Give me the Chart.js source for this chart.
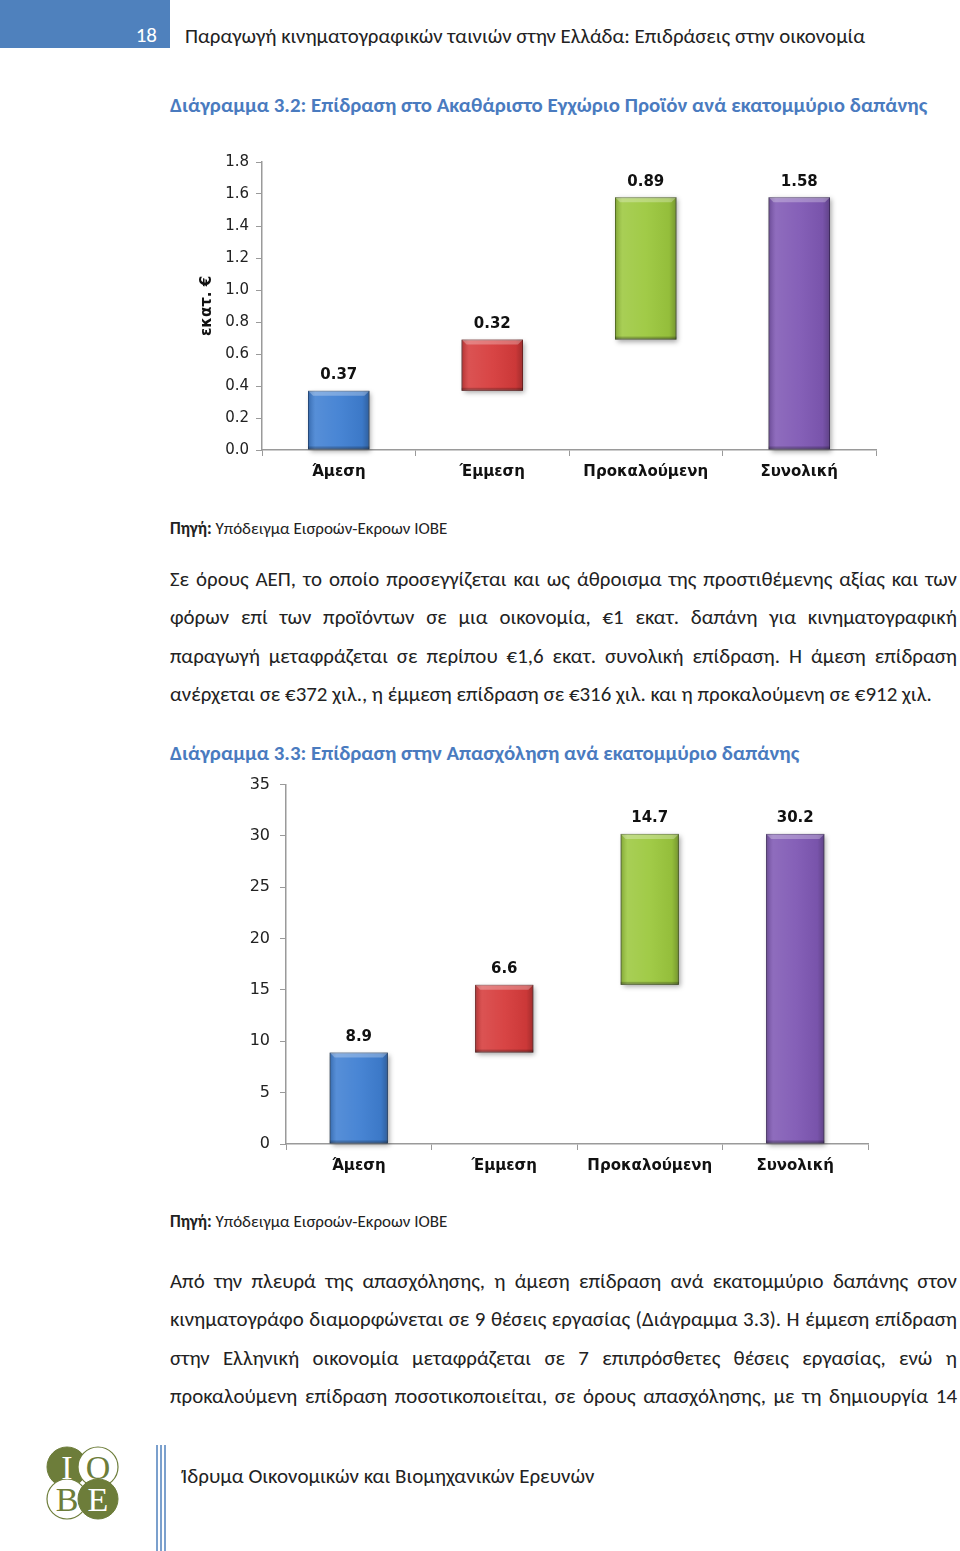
<!DOCTYPE html>
<html lang="el">
<head>
<meta charset="utf-8">
<script src="https://cdn.jsdelivr.net/npm/chart.js@4.4.1/dist/chart.umd.min.js"></script>
<style>
  body { margin: 0; width: 960px; height: 1551px; background: #fff; position: relative; overflow: hidden;
         font-family: "Carlito", "Noto Sans", sans-serif; color: #222; }
  .abs { position: absolute; }
  #pageNo { left: 0; top: 0; width: 170px; height: 48px; background: #4f81bd; }
  #pageNo span { position: absolute; right: 13px; top: 22px; color: #fff; font-size: 21px; }
  #header { left: 185px; top: 23px; font-size: 20.9px; color: #222; white-space: nowrap; }
  .title { left: 170px; font-weight: bold; color: #4a7bbf; font-size: 20.9px; white-space: nowrap; }
  .source { left: 170px; font-size: 17px; white-space: nowrap; }
  .para { left: 170px; width: 787px; font-size: 20.9px; }
  .para div { height: 38.4px; line-height: 38.4px; text-align: justify; text-align-last: justify; white-space: nowrap; }
  .para div.last { text-align-last: left; }
  #footText { left: 182px; top: 1463px; font-size: 21px; white-space: nowrap; }
  canvas { position: absolute; }
</style>
</head>
<body>
<div id="pageNo" class="abs"><span>18</span></div>
<div id="header" class="abs">Παραγωγή κινηματογραφικών ταινιών στην Ελλάδα: Επιδράσεις στην οικονομία</div>

<div class="abs title" style="top:92px">Διάγραμμα 3.2: Επίδραση στο Ακαθάριστο Εγχώριο Προϊόν ανά εκατομμύριο δαπάνης</div>
<canvas id="chartGdp" width="720" height="350" style="left:180px;top:140px"></canvas>
<div class="abs source" style="top:518px"><b>Πηγή:</b> Υπόδειγμα Εισροών-Εκροων ΙΟΒΕ</div>

<div class="abs para" style="top:560px">
  <div>Σε όρους ΑΕΠ, το οποίο προσεγγίζεται και ως άθροισμα της προστιθέμενης αξίας και των</div>
  <div>φόρων επί των προϊόντων σε μια οικονομία, €1 εκατ. δαπάνη για κινηματογραφική</div>
  <div>παραγωγή μεταφράζεται σε περίπου €1,6 εκατ. συνολική επίδραση. Η άμεση επίδραση</div>
  <div class="last">ανέρχεται σε €372 χιλ., η έμμεση επίδραση σε €316 χιλ. και η προκαλούμενη σε €912 χιλ.</div>
</div>

<div class="abs title" style="top:740px">Διάγραμμα 3.3: Επίδραση στην Απασχόληση ανά εκατομμύριο δαπάνης</div>
<canvas id="chartJobs" width="660" height="425" style="left:230px;top:765px"></canvas>
<div class="abs source" style="top:1211px"><b>Πηγή:</b> Υπόδειγμα Εισροών-Εκροων ΙΟΒΕ</div>

<div class="abs para" style="top:1262px">
  <div>Από την πλευρά της απασχόλησης, η άμεση επίδραση ανά εκατομμύριο δαπάνης στον</div>
  <div>κινηματογράφο διαμορφώνεται σε 9 θέσεις εργασίας (Διάγραμμα 3.3). Η έμμεση επίδραση</div>
  <div>στην Ελληνική οικονομία μεταφράζεται σε 7 επιπρόσθετες θέσεις εργασίας, ενώ η</div>
  <div>προκαλούμενη επίδραση ποσοτικοποιείται, σε όρους απασχόλησης, με τη δημιουργία 14</div>
</div>

<svg class="abs" style="left:40px;top:1440px" width="130" height="111">
  <g font-family="Liberation Serif, serif" font-size="34" text-anchor="middle">
    <circle cx="27" cy="27" r="20" fill="#6d7d3a" stroke="#6d7d3a"/>
    <circle cx="58" cy="27" r="20" fill="#fff" stroke="#6d7d3a" stroke-width="1.2"/>
    <circle cx="27" cy="59" r="20" fill="#fff" stroke="#6d7d3a" stroke-width="1.2"/>
    <circle cx="58" cy="59" r="20" fill="#6d7d3a" stroke="#6d7d3a"/>
    <text x="27" y="39" fill="#fff">I</text>
    <text x="58" y="39" fill="#6d7d3a">O</text>
    <text x="27" y="71" fill="#6d7d3a">B</text>
    <text x="58" y="71" fill="#fff">E</text>
  </g>
  <line x1="117" y1="5" x2="117" y2="111" stroke="#4f81bd" stroke-width="1.5"/>
  <line x1="121" y1="5" x2="121" y2="111" stroke="#4f81bd" stroke-width="1.5"/>
  <line x1="125" y1="5" x2="125" y2="111" stroke="#4f81bd" stroke-width="1.5"/>
</svg>
<div id="footText" class="abs">Ίδρυμα Οικονομικών και Βιομηχανικών Ερευνών</div>

<script>
// κατηγορίες και τιμές
const categories = ['Άμεση', 'Έμμεση', 'Προκαλούμενη', 'Συνολική'];
const gdpValues = [0.37, 0.32, 0.89, 1.58];   // εκατ. €
const jobValues = [8.9, 6.6, 14.7, 30.2];     // θέσεις εργασίας
const gdpTicks = { min: 0, max: 1.8, step: 0.2 };
const jobTicks = { min: 0, max: 35, step: 5 };

const barColors = ['#3f7fd2', '#d63b3b', '#9cc83e', '#7f58b4'];
const barBorders = ['#1f4f8f', '#8e1e1e', '#5f7f20', '#4b2e78'];

const chartFont = '"DejaVu Sans", sans-serif';

// waterfall: οι τρεις πρώτες στοιβάζονται, η τελευταία από το μηδέν
function waterfall(values) {
  let acc = 0;
  return values.map((v, i) => {
    if (i === values.length - 1) return [0, v];
    const r = [acc, acc + v];
    acc += v;
    return r;
  });
}

const barLook = {
  id: 'barLook',
  beforeDatasetsDraw(chart) {
    const ctx = chart.ctx;
    chart.getDatasetMeta(0).data.forEach(bar => {
      const p = bar.getProps(['x', 'y', 'base', 'width'], true);
      ctx.save();
      ctx.shadowColor = 'rgba(0,0,0,0.35)';
      ctx.shadowBlur = 5;
      ctx.shadowOffsetX = 2;
      ctx.shadowOffsetY = 2;
      ctx.fillStyle = '#888';
      ctx.fillRect(p.x - p.width / 2, p.y, p.width, p.base - p.y);
      ctx.restore();
    });
  },
  afterDatasetsDraw(chart, args, opts) {
    const ctx = chart.ctx;
    chart.getDatasetMeta(0).data.forEach((bar, i) => {
      const p = bar.getProps(['x', 'y', 'base', 'width'], true);
      const left = p.x - p.width / 2, h = p.base - p.y;
      ctx.save();
      const g = ctx.createLinearGradient(left, 0, left + p.width, 0);
      g.addColorStop(0, 'rgba(0,0,0,0.18)');
      g.addColorStop(0.12, 'rgba(255,255,255,0.12)');
      g.addColorStop(0.5, 'rgba(255,255,255,0.05)');
      g.addColorStop(0.88, 'rgba(0,0,0,0.05)');
      g.addColorStop(1, 'rgba(0,0,0,0.25)');
      ctx.fillStyle = g;
      ctx.fillRect(left, p.y, p.width, h);
      // λοξή ακμή πάνω
      ctx.fillStyle = 'rgba(255,255,255,0.28)';
      ctx.beginPath();
      ctx.moveTo(left, p.y);
      ctx.lineTo(left + p.width, p.y);
      ctx.lineTo(left + p.width - 5, p.y + 5);
      ctx.lineTo(left + 5, p.y + 5);
      ctx.closePath();
      ctx.fill();
      ctx.fillStyle = 'rgba(0,0,0,0.2)';
      ctx.fillRect(left, p.base - 3, p.width, 3);
      // ετικέτα τιμής
      ctx.fillStyle = '#111';
      ctx.font = 'bold 15px ' + chartFont;
      ctx.textAlign = 'center';
      ctx.textBaseline = 'bottom';
      ctx.fillText(opts.labels[i], p.x, p.y - 8);
      ctx.restore();
    });
  }
};

function makeChart(id, values, ticks, cfg) {
  return new Chart(document.getElementById(id), {
    type: 'bar',
    data: {
      labels: categories,
      datasets: [{
        data: waterfall(values),
        backgroundColor: barColors,
        borderColor: barBorders,
        borderWidth: 1,
        borderSkipped: false,
        categoryPercentage: 1,
        barPercentage: 0.4
      }]
    },
    options: {
      responsive: false,
      animation: false,
      devicePixelRatio: 1,
      layout: { padding: cfg.padding },
      plugins: {
        legend: { display: false },
        tooltip: { enabled: false },
        barLook: { labels: values.map(v => String(v)) }
      },
      scales: {
        x: {
          afterFit: s => { s.height = cfg.xHeight; },
          grid: { display: true, drawOnChartArea: false, offset: true, tickLength: 6, color: '#9a9a9a' },
          border: { color: '#9a9a9a', width: 1.5 },
          ticks: { color: '#111', padding: 7, font: { family: chartFont, size: 15, weight: 'bold' } }
        },
        y: {
          min: ticks.min,
          max: ticks.max,
          afterFit: s => { s.width = cfg.yWidth; },
          grid: { display: true, drawOnChartArea: false, tickLength: 6, color: '#9a9a9a' },
          border: { color: '#9a9a9a', width: 1.5 },
          title: cfg.yTitle ? { display: true, text: cfg.yTitle, color: '#111', padding: 0,
                   font: { family: chartFont, size: 15, weight: 'bold' } } : { display: false },
          ticks: {
            stepSize: ticks.step,
            color: '#222',
            padding: cfg.tickPad,
            font: { family: chartFont, size: cfg.tickSize },
            callback: v => cfg.decimals ? Number(v).toFixed(cfg.decimals) : v
          }
        }
      }
    },
    plugins: [barLook]
  });
}

makeChart('chartGdp', gdpValues, gdpTicks, {
  padding: { top: 22, left: 18, right: 24, bottom: 0 },
  xHeight: 40, yWidth: 64, yTitle: 'εκατ. €', decimals: 1, tickSize: 15, tickPad: 7
});
makeChart('chartJobs', jobValues, jobTicks, {
  padding: { top: 0, left: 0, right: 22, bottom: 0 },
  xHeight: 46, yWidth: 56, decimals: 0, tickSize: 16, tickPad: 10
});
</script>
</body>
</html>
